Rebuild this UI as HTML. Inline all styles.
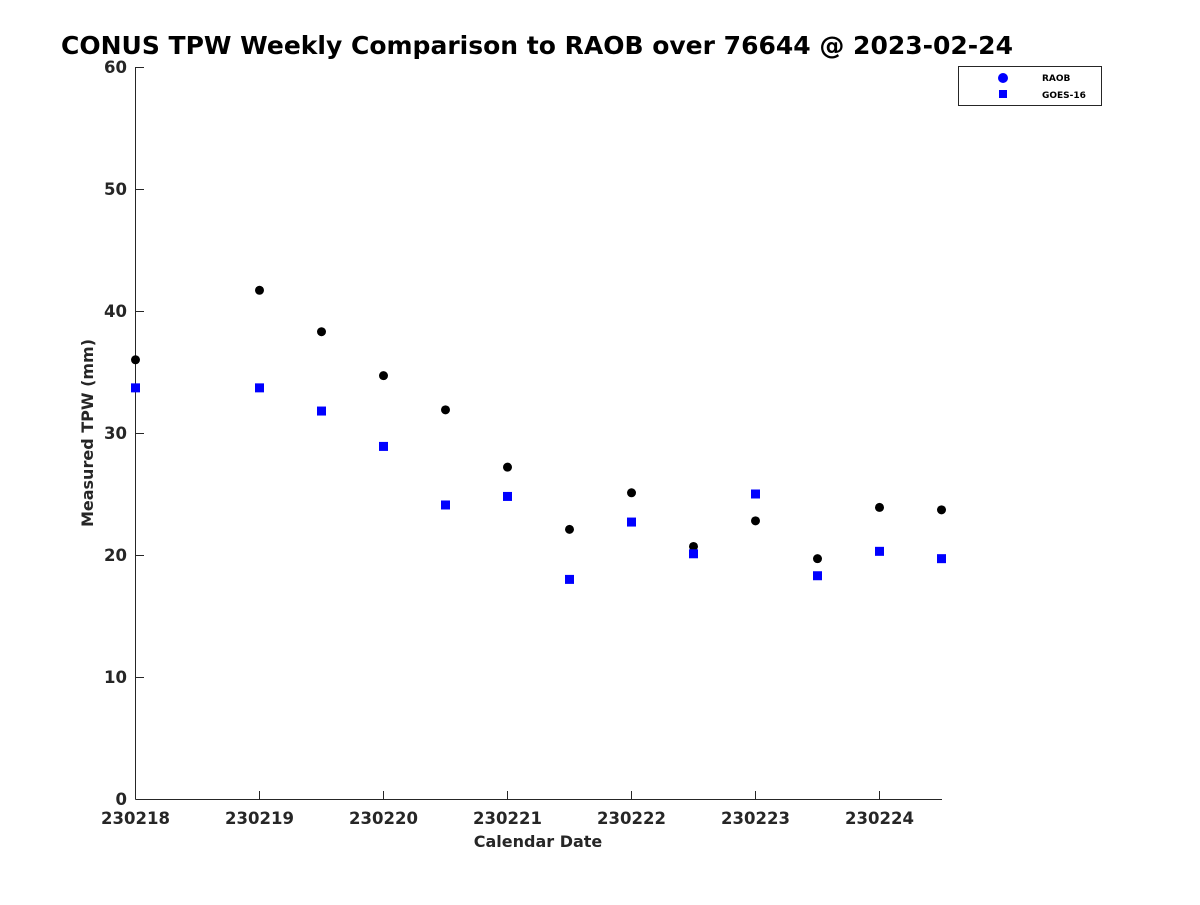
<!DOCTYPE html>
<html><head><meta charset="utf-8"><style>
body{margin:0;background:#fff;width:1200px;height:900px;overflow:hidden;font-family:"Liberation Sans","DejaVu Sans",sans-serif;}
</style></head><body>
<svg id="chart" width="1200" height="900" xmlns="http://www.w3.org/2000/svg" font-family="DejaVu Sans, Liberation Sans, sans-serif">
<text x="61" y="54" font-size="25" font-weight="bold" fill="#000">CONUS TPW Weekly Comparison to RAOB over 76644 @ 2023-02-24</text>
<g id="axes"></g>
<g id="marks"></g>
<text x="538" y="847" font-size="16" font-weight="bold" fill="#262626" text-anchor="middle">Calendar Date</text>
<text transform="translate(93,433) rotate(-90)" font-size="16" font-weight="bold" fill="#262626" text-anchor="middle">Measured TPW (mm)</text>
<g>
<rect x="958.5" y="66.5" width="143" height="39" fill="#fff" stroke="#262626" stroke-width="1"/>
<circle cx="1003" cy="78" r="5" fill="#0000ff"/>
<text x="1042" y="81" font-size="9" font-weight="bold" fill="#000">RAOB</text>
<rect x="999" y="90" width="8" height="8" fill="#0000ff"/>
<text x="1042" y="98" font-size="9" font-weight="bold" fill="#000">GOES-16</text>
</g>
</svg>
<script>
const dayOffsets=[0,1,1.5,2,2.5,3,3.5,4,4.5,5,5.5,6,6.5];
const raob=[36.0,41.7,38.3,34.7,31.9,27.2,22.1,25.1,20.7,22.8,19.7,23.9,23.7];
const goes=[33.7,33.7,31.8,28.9,24.1,24.8,18.0,22.7,20.1,25.0,18.3,20.3,19.7];
const xTickLabels=["230218","230219","230220","230221","230222","230223","230224"];
const yTicks=[0,10,20,30,40,50,60];
const NS="http://www.w3.org/2000/svg";
const x=d=>135.5+d*124;
const y=v=>799-v*12.2;
const axes=document.getElementById('axes'),marks=document.getElementById('marks');
function mk(tag,attrs,parent){const e=document.createElementNS(NS,tag);for(const k in attrs)e.setAttribute(k,attrs[k]);parent.appendChild(e);return e;}
let l=mk('line',{x1:135.5,y1:67,x2:135.5,y2:799.5,stroke:'#262626'},axes);


l=mk('line',{x1:135.5,y1:799.5,x2:942,y2:799.5,stroke:'#262626'},axes);


yTicks.forEach(v=>{
 mk('line',{x1:136,x2:144,y1:y(v)+0.5,y2:y(v)+0.5,stroke:'#262626'},axes);
 const t=mk('text',{x:127,y:y(v)+6,'font-size':16.5,'font-weight':'bold',fill:'#262626','text-anchor':'end'},axes);
 t.textContent=v;
 
 
});
xTickLabels.forEach((s,i)=>{
 mk('line',{x1:x(i),x2:x(i),y1:799,y2:791,stroke:'#262626'},axes);
 const t=mk('text',{x:x(i),y:824,'font-size':16.5,'font-weight':'bold',fill:'#262626','text-anchor':'middle'},axes);
 t.textContent=s;
 
 
});
dayOffsets.forEach((d,i)=>{
 const c=mk('circle',{cx:x(d),cy:y(raob[i]),r:4.5,fill:'#000'},marks);
 
 
 const r=mk('rect',{x:x(d)-4.5,y:y(goes[i])-4.5,width:9,height:9,fill:'#0000ff'},marks);
 
 
});
</script>
</body></html>
